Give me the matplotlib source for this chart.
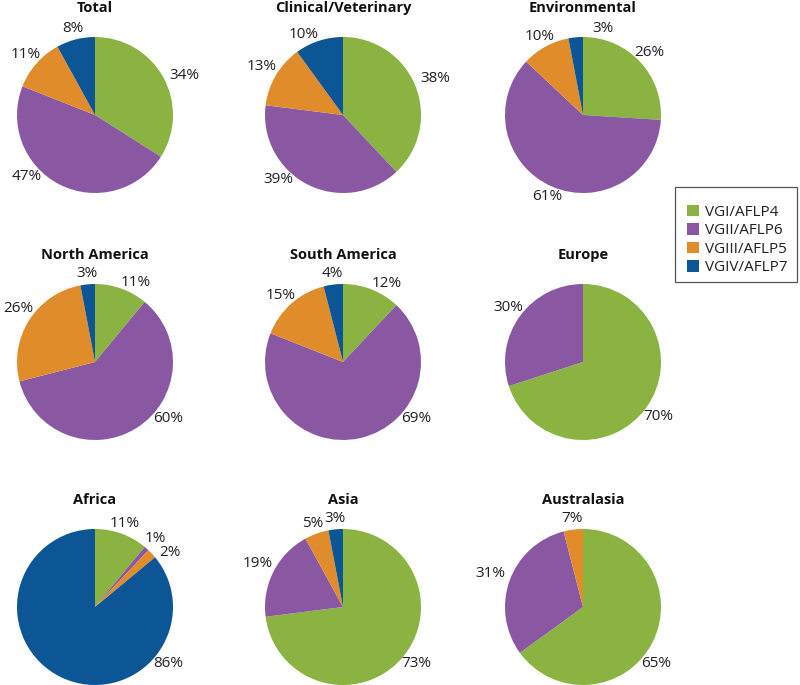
import numpy as np
import matplotlib
matplotlib.use("Agg")
import matplotlib.pyplot as plt
from matplotlib.patches import Patch, Rectangle

plt.rcParams['font.family'] = ['Open Sans', 'DejaVu Sans']

series_names = ["VGI/AFLP4", "VGII/AFLP6", "VGIII/AFLP5", "VGIV/AFLP7"]
colors = ["#8AB341", "#8A58A2", "#E18C2A", "#0D5696"]

titles = ["Total", "Clinical/Veterinary", "Environmental",
          "North America", "South America", "Europe",
          "Africa", "Asia", "Australasia"]

# wedge sizes (percent) in order VGI, VGII, VGIII, VGIV
total = [34, 47, 11, 8]
clinical = [38, 39, 13, 10]
environmental = [26, 61, 10, 3]
north_america = [11, 60, 26, 3]
south_america = [12, 69, 15, 4]
europe = [70, 30, 0, 0]
africa = [11, 1, 2, 86]
asia = [73, 19, 5, 3]
australasia = [65, 31, 4, 0]

# printed labels
total_lbl = ["34%", "47%", "11%", "8%"]
clinical_lbl = ["38%", "39%", "13%", "10%"]
environmental_lbl = ["26%", "61%", "10%", "3%"]
north_america_lbl = ["11%", "60%", "26%", "3%"]
south_america_lbl = ["12%", "69%", "15%", "4%"]
europe_lbl = ["70%", "30%", "", ""]
africa_lbl = ["11%", "1%", "2%", "86%"]
asia_lbl = ["73%", "19%", "5%", "3%"]
australasia_lbl = ["65%", "31%", "7%", ""]

all_values = [total, clinical, environmental, north_america, south_america,
              europe, africa, asia, australasia]
all_labels = [total_lbl, clinical_lbl, environmental_lbl, north_america_lbl,
              south_america_lbl, europe_lbl, africa_lbl, asia_lbl, australasia_lbl]

# layout: label direction overrides (degrees) where the original moved labels
label_angle_override = {
    ("Total", "47%"): -138, ("Total", "34%"): 24,
    ("Clinical/Veterinary", "39%"): -135,
    ("Clinical/Veterinary", "10%"): 116, ("Environmental", "3%"): 77,
    ("North America", "60%"): -38, ("North America", "11%"): 63,
    ("North America", "26%"): 145,
    ("South America", "69%"): -38, ("South America", "12%"): 61,
    ("South America", "15%"): 133, ("Africa", "86%"): -38,
    ("Africa", "2%"): 36, ("Asia", "73%"): -38, ("Australasia", "65%"): -38,
}

W, H = 800, 685
fig = plt.figure(figsize=(W / 100, H / 100), dpi=100)

col_x = [95, 343, 583]
row_y = [115, 362, 607]
R = 78.0
half = 100.0
lim = half / R
FS = 11

for i, (title, vals, lbls) in enumerate(zip(titles, all_values, all_labels)):
    cx = col_x[i % 3]
    cy = row_y[i // 3]
    ax = fig.add_axes([(cx - half) / W, 1 - (cy + half) / H, 2 * half / W, 2 * half / H])
    wedges, _ = ax.pie(vals, colors=colors, startangle=90, counterclock=False,
                       radius=1.0, wedgeprops=dict(linewidth=0))
    ax.set_xlim(-lim, lim)
    ax.set_ylim(-lim, lim)
    ax.set_aspect('equal')
    ax.axis('off')
    for w, lb in zip(wedges, lbls):
        if not lb:
            continue
        deg = label_angle_override.get((title, lb), (w.theta1 + w.theta2) / 2)
        th = np.deg2rad(deg)
        c, s = np.cos(th), np.sin(th)
        hw = 5.0 * len(lb)   # half text width in px
        hh = 6.0             # half text height in px
        ext = min(hw / max(abs(c), 1e-6), hh / max(abs(s), 1e-6))
        dist = (R * 1.06 + ext) / R
        ax.text(dist * c, dist * s, lb, ha='center', va='center',
                fontsize=FS, color='#231F20')
    fig.text(cx / W, 1 - (cy - 107) / H, title, ha='center', va='center',
             fontsize=10.5, fontweight='bold', color='#111111')

# legend frame
fig.patches.append(Rectangle((675 / W, 1 - 282 / H), 122 / W, 95 / H,
                             transform=fig.transFigure, facecolor='white',
                             edgecolor='#555555', linewidth=0.9, zorder=0))
handles = [Patch(facecolor=c, edgecolor='none') for c in colors]
leg = fig.legend(handles, series_names, loc='center left',
                 bbox_to_anchor=(687 / W, 1 - 240 / H), frameon=False,
                 fontsize=11, handlelength=0.8, handleheight=0.8,
                 handletextpad=0.35, labelspacing=0.22, borderpad=0,
                 borderaxespad=0)
for t in leg.get_texts():
    t.set_color('#231F20')

fig.savefig("out.png", dpi=100)
